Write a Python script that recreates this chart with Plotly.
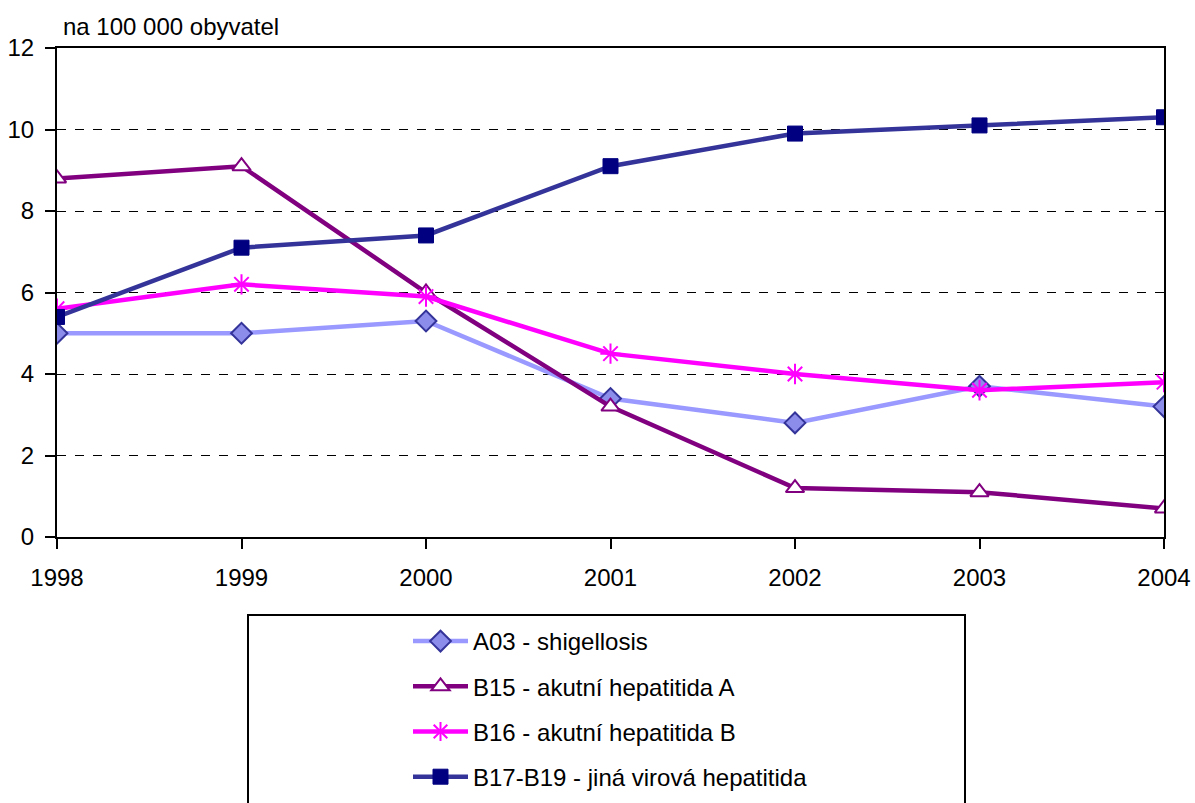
import plotly.graph_objects as go

years = [1998, 1999, 2000, 2001, 2002, 2003, 2004]
names = ["A03 - shigellosis", "B15 - akutní hepatitida A",
         "B16 - akutní hepatitida B", "B17-B19 - jiná virová hepatitida"]
a03 = [5.0, 5.0, 5.3, 3.4, 2.8, 3.7, 3.2]
b15 = [8.8, 9.1, 6.0, 3.2, 1.2, 1.1, 0.7]
b16 = [5.6, 6.2, 5.9, 4.5, 4.0, 3.6, 3.8]
b17 = [5.4, 7.1, 7.4, 9.1, 9.9, 10.1, 10.3]
y_ticks = [0, 2, 4, 6, 8, 10, 12]

FONT = "Liberation Sans Narrow, Arial Narrow, Liberation Sans, Arial"

W, H = 1195, 803
L, R, T, B = 57, 31, 48, 266

fig = go.Figure()
fig.add_trace(go.Scatter(x=years, y=a03, name=names[0], mode="lines+markers", legendgroup="a",
                         line=dict(color="#9999FF", width=4.5),
                         marker=dict(symbol="diamond", size=16, color="#8C8CEB",
                                     line=dict(color="#333399", width=2))))
fig.add_trace(go.Scatter(x=years, y=b15, name=names[1], mode="lines+markers", legendgroup="b",
                         line=dict(color="#800080", width=4.5),
                         marker=dict(symbol="triangle-up", size=16, color="white",
                                     line=dict(color="#800080", width=2))))
fig.add_trace(go.Scatter(x=years, y=b16, name=names[2], mode="lines+markers", legendgroup="c",
                         line=dict(color="#FF00FF", width=4.5),
                         marker=dict(symbol="asterisk-open", size=17, color="#FF00FF",
                                     line=dict(color="#FF00FF", width=2))))
fig.add_trace(go.Scatter(x=years, y=b17, name=names[3], mode="lines+markers", legendgroup="d",
                         line=dict(color="#333399", width=4.5),
                         marker=dict(symbol="square", size=15, color="#000080",
                                     line=dict(color="#000080", width=1))))

pw = W - L - R
ph = H - T - B
fig.add_shape(type="rect", xref="paper", yref="paper",
              x0=(248 - L) / pw, x1=(965 - L) / pw,
              y0=-(B + 20) / ph, y1=-(615 - T - ph) / ph,
              line=dict(color="black", width=2), fillcolor="white", layer="below")

fig.add_annotation(text="na 100 000 obyvatel", xref="paper", yref="paper",
                   x=0.004, y=1.012, xanchor="left", yanchor="bottom", showarrow=False,
                   font=dict(size=24, color="black", family=FONT))

fig.update_layout(
    width=W, height=H,
    margin=dict(l=L, r=R, t=T, b=B),
    paper_bgcolor="white", plot_bgcolor="white",
    font=dict(family=FONT, size=24, color="black"),
    showlegend=True,
    legend=dict(x=(408 - L) / pw, xref="paper", y=1 - 619 / H, yref="container",
                xanchor="left", yanchor="top",
                bgcolor="rgba(0,0,0,0)", borderwidth=0, itemwidth=55,
                tracegroupgap=11, font=dict(size=24, family=FONT)),
    xaxis=dict(range=[1998, 2004], tickvals=years, ticks="outside", ticklen=10,
               tickwidth=2, tickcolor="black", showline=True, linecolor="black",
               linewidth=2, mirror=True, showgrid=False, zeroline=False,
               ticklabelstandoff=8, automargin=False, tickfont=dict(size=24)),
    yaxis=dict(range=[0, 12], tickvals=y_ticks, ticks="outside", ticklen=10,
               tickwidth=2, tickcolor="black", showline=True, linecolor="black",
               linewidth=2, mirror=True, showgrid=True, gridcolor="black",
               griddash="dash", gridwidth=1, zeroline=False,
               ticklabelstandoff=6, automargin=False, tickfont=dict(size=24)),
)

fig.write_html("out.html", config={"displayModeBar": False},
               post_script="document.body.style.margin='0';document.body.style.overflow='hidden';")
